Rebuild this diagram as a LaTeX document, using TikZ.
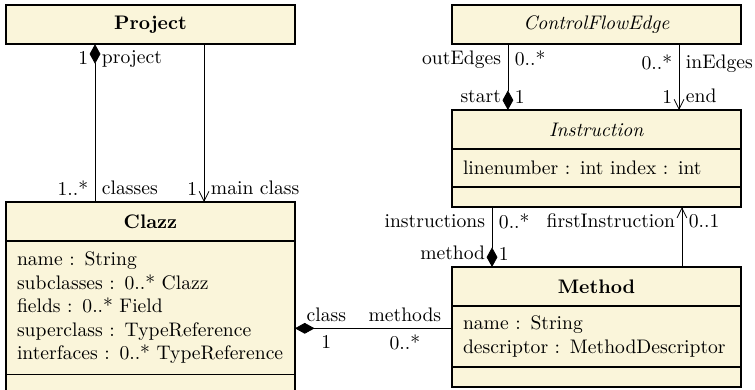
\documentclass[tikz,border=0pt]{standalone}
\usetikzlibrary{arrows.meta}
\definecolor{umlfill}{RGB}{250,245,218}

\begin{document}
\begin{tikzpicture}%
    [x = 0.5102pt, y = -0.5102pt,
     umlbox/.style = {draw, thick, fill = umlfill, minimum width = 147.4pt, outer sep = 0pt, anchor = north},
     umlhead/.style = {umlbox, minimum height = 20pt, inner sep = 0pt},
     umlattr/.style = {umlbox, inner xsep = 5.6pt, inner ysep = 0pt, text width = 136.2pt, align = left},
     umlops/.style = {umlbox, minimum height = 10.2pt, inner sep = 0pt},
     comp/.style = {arrows = {Diamond[length = 10pt, width = 5.5pt]-}},
     nav/.style = {arrows = {-Straight Barb[length = 5pt, width = 5pt]}}]
    \useasboundingbox (0, 0) rectangle (755, 390);

    % classes
    \node [umlhead] (prj) at (150.5, 5) {\textbf{Project}};
    \node [umlhead] (cfe) at (596.5, 5) {\textit{ControlFlowEdge}};

    \node [umlhead] (ins) at (596.5, 110) {\textit{Instruction}};
    \node [umlattr, minimum height = 19.4pt] (insattr) at (ins.south) {linenumber : int index : int};
    \node [umlops] (insops) at (insattr.south) {};

    \node [umlhead] (clz) at (150.5, 202) {\textbf{Clazz}};
    \node [umlattr, minimum height = 67.9pt] (clzattr) at (clz.south)
        {name : String\\ subclasses : 0..* Clazz\\ fields : 0..* Field\\ superclass : TypeReference\\ interfaces : 0..* TypeReference};
    \node [umlops, minimum height = 16pt] (clzops) at (clzattr.south) {};

    \node [umlhead] (mth) at (596.5, 267) {\textbf{Method}};
    \node [umlattr, minimum height = 31.1pt] (mthattr) at (mth.south) {name : String\\ descriptor : MethodDescriptor};
    \node [umlops] (mthops) at (mthattr.south) {};

    % associations
    \draw [comp] ([xshift = -28.3pt]prj.south) -- ([xshift = -28.3pt]clz.north)
        node [at start, anchor = north east] {1}
        node [at start, anchor = north west] {project}
        node [at end, anchor = south east] {1..*}
        node [at end, anchor = south west] {classes};
    \draw [nav] ([xshift = 27.3pt]prj.south) -- ([xshift = 27.3pt]clz.north)
        node [at end, anchor = south east] {1}
        node [at end, anchor = south west] {main class};

    \draw [comp] ([xshift = -45.2pt]ins.north) -- ([xshift = -45.2pt]cfe.south)
        node [at start, anchor = south east] {start}
        node [at start, anchor = south west] {1}
        node [at end, anchor = north east] {outEdges}
        node [at end, anchor = north west] {0..*};
    \draw [nav] ([xshift = 42.1pt]cfe.south) -- ([xshift = 42.1pt]ins.north)
        node [at start, anchor = north east, yshift = -2pt] {0..*}
        node [at start, anchor = north west, yshift = -2pt] {inEdges}
        node [at end, anchor = south east] {1}
        node [at end, anchor = south west] {end};

    \draw [comp] ([xshift = -53.3pt]mth.north) -- ([xshift = -53.3pt]insops.south)
        node [at start, anchor = south east] {method}
        node [at start, anchor = south west] {1}
        node [at end, anchor = north east] {instructions}
        node [at end, anchor = north west] {0..*};
    \draw [nav] ([xshift = 43.6pt]mth.north) -- ([xshift = 43.6pt]insops.south)
        node [at end, anchor = north east] {firstInstruction}
        node [at end, anchor = north west] {0..1};

    \draw [comp] ([yshift = -10.5pt]clzattr.east) -- ([yshift = -10.5pt]clzattr.east -| mthattr.west)
        node [pos = 0.2, above] {class}
        node [pos = 0.2, below] {1}
        node [pos = 0.7, above] {methods}
        node [pos = 0.7, below] {0..*};
\end{tikzpicture}
\end{document}
